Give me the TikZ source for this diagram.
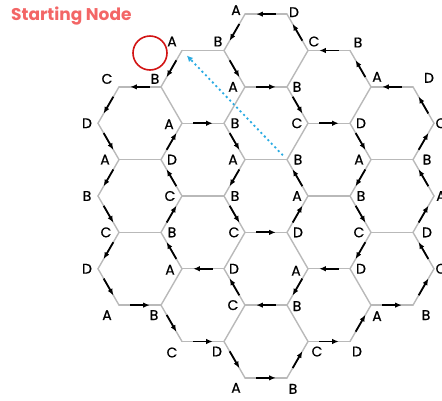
\documentclass[tikz,border=0pt]{standalone}
\usepackage{fontspec}
\setmainfont{Poppins}
\newfontfamily\lblfont{Poppins}[FakeBold=0.6]
\usetikzlibrary{calc,arrows.meta}
\definecolor{edgegrey}{RGB}{185,185,185}
\definecolor{bluedot}{RGB}{41,171,226}
\definecolor{startred}{RGB}{210,20,20}
\definecolor{titlered}{RGB}{243,102,102}
\begin{document}
\begin{tikzpicture}[x=1pt,y=-1pt,
  edge/.style={draw=edgegrey,line width=1.4pt,line cap=round},
  arr/.style={draw=black,line width=1.8pt,-{Latex[length=6.5pt,width=5.5pt]}},
  lbl/.style={font=\lblfont\fontsize{14}{14}\selectfont,inner sep=0pt,text=black},
  bluearr/.style={draw=bluedot,line width=1.8pt,dash pattern=on 2pt off 3pt,
    -{Latex[length=6pt,width=6pt]},shorten >=7pt,shorten <=6pt},
  startmark/.style={draw=startred,line width=1.6pt,circle,minimum size=34pt,inner sep=0pt},
  titletext/.style={text=titlered,font=\fontsize{17}{17}\selectfont\bfseries,inner sep=0pt,anchor=west}]
\useasboundingbox (0,0) rectangle (442,400);
% vertices of the hexagon lattice
\foreach \r/\cols in {0/{5,6},1/{3,4,7,8},2/{1,2,5,6,9,10},3/{0,3,4,7,8,11},4/{1,2,5,6,9,10},5/{0,3,4,7,8,11},6/{1,2,5,6,9,10},7/{0,3,4,7,8,11},8/{1,2,5,6,9,10},9/{3,4,7,8},10/{5,6}}{
  \foreach \c in \cols {
    \pgfmathsetmacro\xx{{98,119,161,182,224,245,287,308,350,371,413,434}[\c]}
    \pgfmathsetmacro\yy{196+(\r-5)*36.373}
    \coordinate (n\r c\c) at (\xx,\yy);
  }
}
% plain edges
\foreach \a/\b in {n1c3/n1c4,n4c1/n4c2,n4c5/n4c6,n4c9/n4c10,n5c3/n5c4,n5c7/n5c8,n6c1/n6c2,n6c9/n6c10,
  n1c7/n2c6,n2c2/n3c3,n2c5/n3c4,n2c9/n3c8,n3c7/n4c6,n6c5/n7c4,n6c6/n7c7,n7c3/n8c2,n7c8/n8c9,
  n8c5/n9c4,n8c6/n9c7}
  \draw[edge] (\a) -- (\b);
% edges with arrows (from -> to)
\foreach \a/\b in {n0c6/n0c5,n1c8/n1c7,n2c2/n2c1,n2c5/n2c6,n2c10/n2c9,n3c3/n3c4,n3c7/n3c8,n6c5/n6c6,
  n7c4/n7c3,n7c8/n7c7,n8c1/n8c2,n8c6/n8c5,n8c9/n8c10,n9c3/n9c4,n9c7/n9c8,n10c5/n10c6,
  n0c5/n1c4,n1c7/n0c6,n1c3/n2c2,n1c4/n2c5,n2c9/n1c8,n2c1/n3c0,n2c6/n3c7,n3c11/n2c10,
  n3c0/n4c1,n4c2/n3c3,n3c4/n4c5,n3c8/n4c9,n4c10/n3c11,
  n4c1/n5c0,n5c3/n4c2,n4c5/n5c4,n5c7/n4c6,n4c9/n5c8,n5c11/n4c10,
  n5c0/n6c1,n6c2/n5c3,n5c4/n6c5,n6c6/n5c7,n5c8/n6c9,n6c10/n5c11,
  n6c1/n7c0,n7c3/n6c2,n6c9/n7c8,n7c11/n6c10,
  n7c0/n8c1,n8c5/n7c4,n7c7/n8c6,n8c10/n7c11,
  n8c2/n9c3,n9c8/n8c9,n9c4/n10c5,n10c6/n9c7}
  \draw[edge] (\a) -- (\b);
\foreach \a/\b in {n0c6/n0c5,n1c8/n1c7,n2c2/n2c1,n2c5/n2c6,n2c10/n2c9,n3c3/n3c4,n3c7/n3c8,n6c5/n6c6,
  n7c4/n7c3,n7c8/n7c7,n8c1/n8c2,n8c6/n8c5,n8c9/n8c10,n9c3/n9c4,n9c7/n9c8,n10c5/n10c6,
  n0c5/n1c4,n1c7/n0c6,n1c3/n2c2,n1c4/n2c5,n2c9/n1c8,n2c1/n3c0,n2c6/n3c7,n3c11/n2c10,
  n3c0/n4c1,n4c2/n3c3,n3c4/n4c5,n3c8/n4c9,n4c10/n3c11,
  n4c1/n5c0,n5c3/n4c2,n4c5/n5c4,n5c7/n4c6,n4c9/n5c8,n5c11/n4c10,
  n5c0/n6c1,n6c2/n5c3,n5c4/n6c5,n6c6/n5c7,n5c8/n6c9,n6c10/n5c11,
  n6c1/n7c0,n7c3/n6c2,n6c9/n7c8,n7c11/n6c10,
  n7c0/n8c1,n8c5/n7c4,n7c7/n8c6,n8c10/n7c11,
  n8c2/n9c3,n9c8/n8c9,n9c4/n10c5,n10c6/n9c7}
  \draw[arr] ($(\a)!0.27!(\b)$) -- ($(\a)!0.73!(\b)$);
% vertex labels
\foreach \r/\c/\t/\dx/\dy in {0/5/A/-9/-4,0/6/D/7/-2,
  1/3/A/-10/-9,1/4/B/-6/-9,1/7/C/6/-9,1/8/B/8/-8,
  2/1/C/-12/-8,2/2/B/-6/-8,2/5/A/-12/0,2/6/B/10/0,2/9/A/6/-10,2/10/D/16/-9,
  3/0/D/-11/0,3/3/A/-13/1,3/4/B/11/0,3/7/C/-11/0,3/8/D/11/0,3/11/C/7/0,
  4/1/A/-14/0,4/2/D/11/0,4/5/A/-12/0,4/6/B/11/0,4/9/A/-12/0,4/10/B/14/0,
  5/0/B/-11/0,5/3/C/-12/0,5/4/B/11/0,5/7/A/-11/0,5/8/B/11/0,5/11/A/7/0,
  6/1/C/-13/0,6/2/B/11/0,6/5/C/-11/0,6/6/D/11/0,6/9/C/-12/0,6/10/D/14/0,
  7/0/D/-11/0,7/3/A/-12/1,7/4/D/10/0,7/7/A/-12/2,7/8/D/11/0,7/11/C/7/0,
  8/1/A/-12/10,8/2/B/-7/10,8/5/C/-12/0,8/6/B/10/1,8/9/A/6/11,8/10/B/13/10,
  9/3/C/-10/11,9/4/D/-7/10,9/7/C/9/10,9/8/D/7/10,
  10/5/A/-9/10,10/6/B/6/11}
  \node[lbl] (l\r c\c) at ($(n\r c\c)+(\dx,\dy)$) {\t};
% start marker, title and the dotted arrow
\node[startmark] (startcircle) at (150,53) {};
\node[titletext] (title) at (11,16) {Starting Node};
\draw[bluearr] (n4c6) -- (n1c3);
\end{tikzpicture}
\end{document}
